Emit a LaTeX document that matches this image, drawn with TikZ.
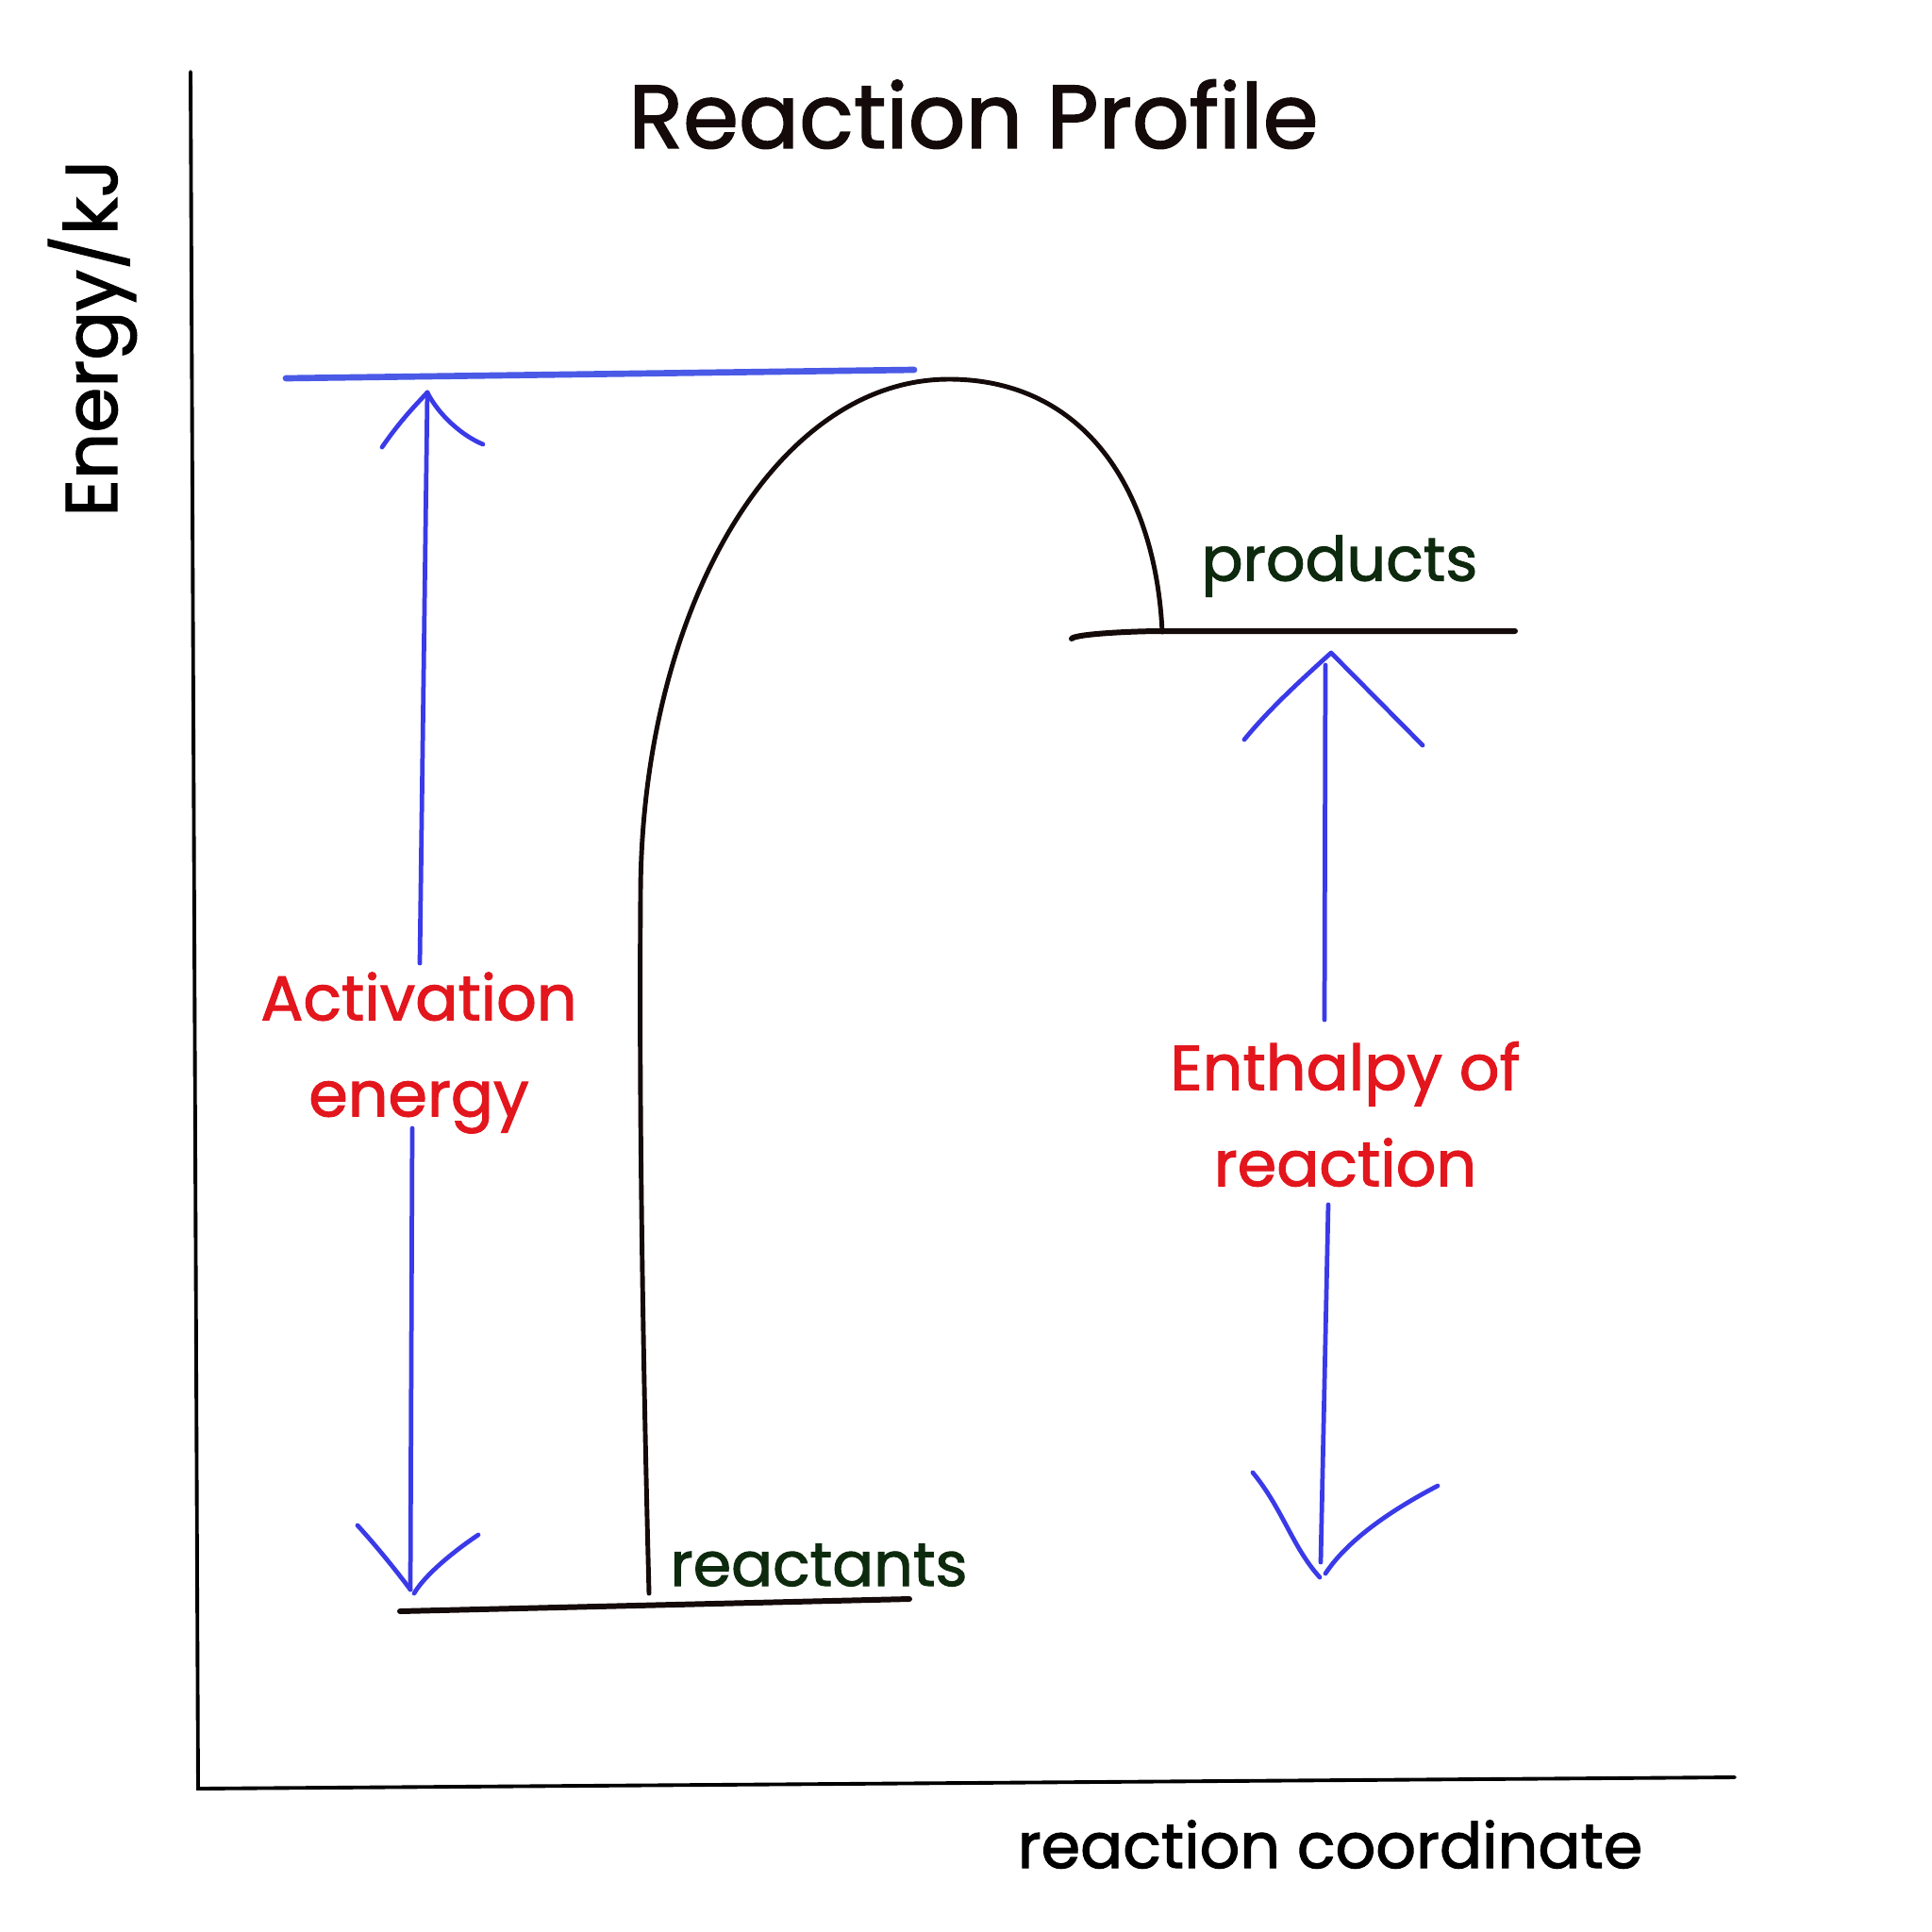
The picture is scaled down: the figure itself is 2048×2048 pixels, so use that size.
\documentclass[tikz,border=0pt]{standalone}
\usepackage{fontspec}
\setmainfont{Poppins}[RawFeature={embolden=1.6}]
\usepackage{tikz}
\usetikzlibrary{positioning, calc}
\definecolor{rpblue}{HTML}{3A3AE8}
\definecolor{rpline}{HTML}{4A5AE6}
\definecolor{rpred}{HTML}{E3161D}
\definecolor{rpgreen}{HTML}{0E2A0E}
\definecolor{rpink}{HTML}{140A0A}

\begin{document}
\begin{tikzpicture}[
  x=0.01cm, y=-0.01cm,
  axis/.style={draw=black, line width=1.1pt, line cap=round},
  level/.style={draw=rpink, line width=1.7pt, line cap=round},
  pen/.style={draw=rpblue, line width=1.35pt, line cap=round, line join=round},
  redlbl/.style={text=rpred, font=\fontsize{19}{29}\selectfont, align=center, inner sep=0pt},
  statelbl/.style={text=rpgreen, font=\fontsize{18.5}{24}\selectfont, inner sep=0pt},
]
  \useasboundingbox[fill=white] (0,0) rectangle (2048,2048);

  % axes
  \coordinate (ytop) at (202,76);
  \coordinate (orig) at (210,1896);
  \coordinate (xend) at (1839,1884);
  \draw[axis] (ytop) -- (orig) -- (xend);

  \node[font=\fontsize{27}{32}\selectfont, text=rpink, inner sep=0pt] (title) at (1032,121) {Reaction Profile};
  \node[font=\fontsize{22}{26}\selectfont, rotate=90, inner sep=0pt] (ylbl) at (98,358) {Energy/kJ};
  \node[font=\fontsize{19}{24}\selectfont, inner sep=0pt] (xlbl) at (1410,1955) {reaction coordinate};

  % energy levels
  \coordinate (ea1) at (303,401);
  \coordinate (ea2) at (969,392);
  \draw[draw=rpline, line width=1.9pt, line cap=round] (ea1) -- (ea2);
  \coordinate (re1) at (424,1708);
  \coordinate (re2) at (964,1695);
  \draw[level] (re1) -- (re2);
  \coordinate (pr1) at (1136,677);
  \coordinate (pr2) at (1606,669);
  \draw[level] (pr1) .. controls (1140,672) and (1200,669) .. (1232,669) -- (pr2);

  \node[statelbl] (prlbl) at (1420,600) {products};
  \node[statelbl] (relbl) at (868,1659) {reactants};

  % reaction path
  \coordinate (ts) at (1006,402);
  \draw[draw=rpink, line width=1.4pt, line cap=round]
    (688,1689) .. controls (683,1500) and (677,1200) .. (679,950)
    .. controls (679,650) and (820,402) .. (ts)
    .. controls (1150,402) and (1225,520) .. (1232,670);

  % activation energy arrow
  \node[redlbl] (ealbl) at (444,1116) {Activation\\energy};
  \coordinate (eatip) at (453,416);
  \coordinate (eamid) at (445,1021);
  \draw[pen] (eamid) -- (eatip);
  \draw[pen] (405,474) .. controls (425,445) and (440,430) .. (eatip)
    .. controls (465,440) and (490,462) .. (512,471);
  \coordinate (eabot) at (435,1685);
  \draw[pen] (437,1196) -- (eabot);
  \draw[pen] (379,1617) .. controls (400,1640) and (420,1665) .. (eabot);
  \draw[pen] (439,1689) .. controls (450,1670) and (480,1645) .. (507,1627);

  % enthalpy arrow
  \node[redlbl] (dhlbl) at (1426,1181) {Enthalpy of\\reaction};
  \coordinate (dhtip) at (1411,692);
  \draw[pen] (1404,1081) -- (1405,705);
  \draw[pen] (1319,784) .. controls (1345,752) and (1380,720) .. (dhtip)
    -- (1508,790);
  \coordinate (dhbot) at (1399,1672);
  \draw[pen] (1408,1277) -- (1400,1656);
  \draw[pen] (1328,1561) .. controls (1360,1600) and (1370,1640) .. (dhbot);
  \draw[pen] (1405,1668) .. controls (1430,1630) and (1480,1598) .. (1524,1575);
\end{tikzpicture}
\end{document}
